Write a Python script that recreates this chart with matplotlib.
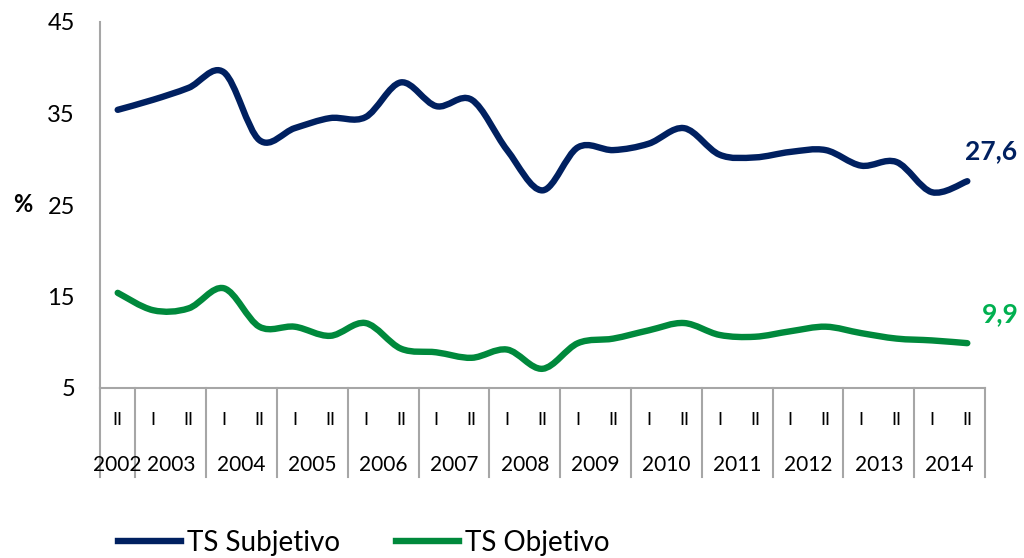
import numpy as np
import matplotlib.pyplot as plt
from matplotlib.path import Path
from matplotlib.patches import PathPatch
from matplotlib.lines import Line2D
import matplotlib.transforms as mtransforms

plt.rcParams['font.family'] = ['Lato', 'DejaVu Sans']

# semesters 2002-II .. 2014-II
years = ['2002', '2003', '2004', '2005', '2006', '2007', '2008',
         '2009', '2010', '2011', '2012', '2013', '2014']
semesters = ['II'] + ['I', 'II'] * 12

ts_subjetivo = [35.4, 36.5, 37.8, 39.5, 32.1, 33.4, 34.5, 34.6, 38.4, 35.8,
                36.5, 31.0, 26.6, 31.3, 31.0, 31.7, 33.4, 30.5, 30.2, 30.8,
                31.0, 29.3, 29.7, 26.4, 27.6]
ts_objetivo = [15.4, 13.5, 13.7, 15.9, 11.7, 11.7, 10.7, 12.1, 9.3, 8.9,
               8.3, 9.2, 7.1, 9.9, 10.4, 11.3, 12.1, 10.8, 10.6, 11.2,
               11.7, 11.0, 10.4, 10.2, 9.9]

BLUE = '#002060'
GREEN = '#00893C'
GREEN_LBL = '#00B050'
GRAY = '#A6A6A6'


def smooth_path(x, y):
    # Excel-like smoothed line: Catmull-Rom as cubic Bezier segments
    pts = np.column_stack([x, y])
    p = np.vstack([pts[0], pts, pts[-1]])
    verts = [pts[0]]
    codes = [Path.MOVETO]
    for i in range(1, len(p) - 2):
        c1 = p[i] + (p[i + 1] - p[i - 1]) / 6.0
        c2 = p[i + 1] - (p[i + 2] - p[i]) / 6.0
        verts += [c1, c2, p[i + 1]]
        codes += [Path.CURVE4] * 3
    return Path(verts, codes)


fig = plt.figure(figsize=(10.24, 5.58), dpi=100)
ax = fig.add_axes([100 / 1024, 1 - 388 / 558, 885 / 1024, 366 / 558])

xs = np.arange(len(semesters)) + 0.5
for vals, col in [(ts_subjetivo, BLUE), (ts_objetivo, GREEN)]:
    ax.add_patch(PathPatch(smooth_path(xs, vals), facecolor='none',
                           edgecolor=col, lw=4.6, capstyle='round',
                           joinstyle='round'))

ax.set_xlim(0, len(semesters))
ax.set_ylim(5, 45)
ax.set_yticks([5, 15, 25, 35, 45])
ax.tick_params(axis='y', length=0, pad=18, labelsize=17)
ax.set_xticks([])
for s in ['top', 'right']:
    ax.spines[s].set_visible(False)
for s in ['left', 'bottom']:
    ax.spines[s].set_color(GRAY)
    ax.spines[s].set_linewidth(1.5)

ax.text(-0.087, 0.5, '%', transform=ax.transAxes, fontsize=17,
        fontweight='bold', ha='center', va='center')

# multi-level category axis
trans = mtransforms.blended_transform_factory(ax.transData, ax.transAxes)
bounds = [0, 1] + list(range(3, len(semesters) + 1, 2))
for b in bounds:
    ax.plot([b, b], [0, -0.243], color=GRAY, lw=1.5, transform=trans,
            clip_on=False)
for x, s in zip(xs, semesters):
    ax.text(x, -0.087, s, transform=trans, ha='center', va='center',
            fontsize=13)
for j, yr in enumerate(years):
    lo, hi = bounds[j], bounds[j + 1]
    ax.text((lo + hi) / 2, -0.21, yr, transform=trans, ha='center',
            va='center', fontsize=15)

# end labels
ax.annotate('27,6', (xs[-1], ts_subjetivo[-1]), xytext=(17, 22),
            textcoords='offset points', color=BLUE, fontsize=19,
            fontweight='bold', ha='center', va='center', annotation_clip=False)
ax.annotate('9,9', (xs[-1], ts_objetivo[-1]), xytext=(24, 21),
            textcoords='offset points', color=GREEN_LBL, fontsize=19,
            fontweight='bold', ha='center', va='center', annotation_clip=False)

handles = [Line2D([], [], color=BLUE, lw=4.6),
           Line2D([], [], color=GREEN, lw=4.6)]
fig.legend(handles, ['TS Subjetivo', 'TS Objetivo'], loc='center',
           bbox_to_anchor=(0.355, 0.027), ncol=2, frameon=False,
           fontsize=20, handlelength=2.3, handletextpad=0.2,
           columnspacing=2.0)

fig.savefig('out.png', dpi=100)
